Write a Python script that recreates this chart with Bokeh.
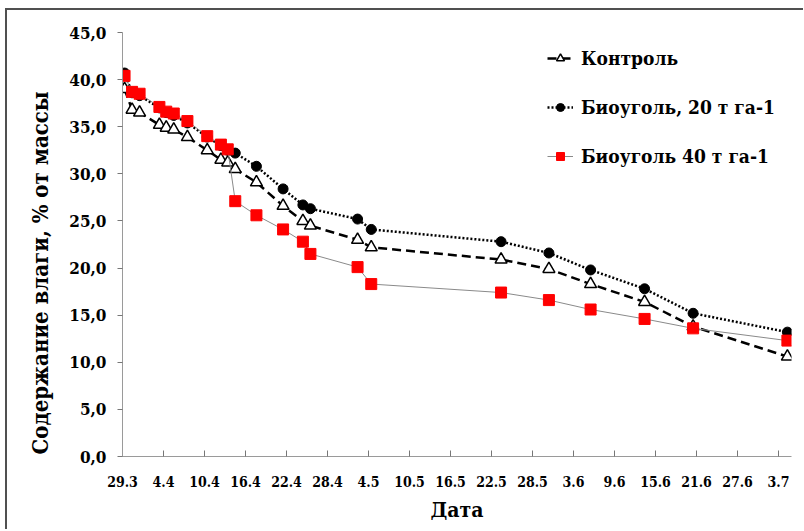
import numpy as np
from bokeh.plotting import figure
from bokeh.layouts import column
from bokeh.models import Range1d, FixedTicker, Legend, LegendItem, Title
from bokeh.embed import file_html
from bokeh.resources import INLINE

# ---- data ----
tick_days = [0, 6, 12, 18, 24, 30, 36, 42, 48, 54, 60, 66, 72, 78, 84, 90, 96]
tick_labels = ["29.3", "4.4", "10.4", "16.4", "22.4", "28.4", "4.5", "10.5", "16.5",
               "22.5", "28.5", "3.6", "9.6", "15.6", "21.6", "27.6", "3.7"]
y_ticks = [0, 5, 10, 15, 20, 25, 30, 35, 40, 45]
y_tick_labels = ["0,0", "5,0", "10,0", "15,0", "20,0", "25,0", "30,0", "35,0", "40,0", "45,0"]

# days after 29.3
days = [0.3, 1.4, 2.5, 5.4, 6.4, 7.5, 9.5, 12.4, 14.4, 15.4, 16.5, 19.6, 23.5, 26.4,
        27.5, 34.4, 36.4, 55.4, 62.4, 68.5, 76.4, 83.5, 97.3]
control = [39.0, 36.8, 36.5, 35.2, 34.9, 34.7, 33.9, 32.5, 31.5, 31.2, 30.5, 29.1, 26.6,
           25.0, 24.5, 23.0, 22.2, 20.9, 19.9, 18.3, 16.4, 13.8, 10.6]
bio20 = [40.7, 38.6, 38.3, 37.0, 36.5, 36.2, 35.4, 33.9, 33.0, 32.5, 32.2, 30.8, 28.4,
         26.7, 26.3, 25.2, 24.1, 22.8, 21.6, 19.8, 17.8, 15.2, 13.2]
bio40 = [40.4, 38.7, 38.5, 37.1, 36.6, 36.4, 35.6, 34.0, 33.1, 32.6, 27.1, 25.6, 24.1,
         22.8, 21.5, 20.1, 18.3, 17.4, 16.6, 15.6, 14.6, 13.6, 12.3]

series_names = ["Контроль", "Биоуголь, 20 т га-1", "Биоуголь 40 т га-1"]
y_title = "Содержание влаги, % от массы"
x_title = "Дата"

FONT = "DejaVu Serif Condensed"

p = figure(width=796, height=519, output_backend="svg", toolbar_location=None,
           x_range=Range1d(0, 97.9), y_range=Range1d(0, 45),
           min_border_left=115, min_border_right=12, min_border_top=22, min_border_bottom=73)
p.outline_line_color = None
p.xgrid.visible = False
p.ygrid.visible = False
p.background_fill_color = "white"
p.border_fill_color = "white"

# axes
p.xaxis.ticker = FixedTicker(ticks=tick_days)
p.xaxis.major_label_overrides = {d: l for d, l in zip(tick_days, tick_labels)}
p.xaxis.minor_tick_line_color = None
p.xaxis.major_tick_in = 6
p.xaxis.major_tick_out = 0
p.xaxis.axis_line_color = "#9a9a9a"
p.xaxis.major_tick_line_color = "#777777"
p.xaxis.major_label_text_font = FONT
p.xaxis.major_label_text_font_style = "bold"
p.xaxis.major_label_text_font_size = "14px"
p.xaxis.major_label_text_color = "black"
p.xaxis.major_label_standoff = 19

p.yaxis.ticker = FixedTicker(ticks=y_ticks)
p.yaxis.major_label_overrides = {t: l for t, l in zip(y_ticks, y_tick_labels)}
p.yaxis.minor_tick_line_color = None
p.yaxis.major_tick_in = 0
p.yaxis.major_tick_out = 5
p.yaxis.axis_line_color = "#9a9a9a"
p.yaxis.major_tick_line_color = "#777777"
p.yaxis.major_label_text_font = FONT
p.yaxis.major_label_text_font_style = "bold"
p.yaxis.major_label_text_font_size = "17px"
p.yaxis.major_label_text_color = "black"
p.yaxis.major_label_standoff = 11

# series
l1 = p.line(days, control, line_color="black", line_width=2.5, line_dash="9 5")
m1 = p.scatter(days, control, marker="triangle", size=12, fill_color="white",
               line_color="black", line_width=1.5)
l2 = p.line(days, bio20, line_color="black", line_width=2.5, line_dash="2 2")
m2 = p.scatter(days, bio20, marker="circle", size=10, fill_color="black", line_color="black")
l3 = p.line(days, bio40, line_color="#8a8a8a", line_width=1)
m3 = p.scatter(days, bio40, marker="square", size=11, fill_color="#ff0000", line_color="#ff0000")

legend = Legend(items=[LegendItem(label=series_names[0], renderers=[l1, m1]),
                       LegendItem(label=series_names[1], renderers=[l2, m2]),
                       LegendItem(label=series_names[2], renderers=[l3, m3])],
                location=(425, 287), orientation="vertical")
legend.border_line_alpha = 0
legend.background_fill_alpha = 0
legend.label_text_font = FONT
legend.label_text_font_style = "bold"
legend.label_text_font_size = "19px"
legend.label_text_color = "black"
legend.glyph_width = 26
legend.glyph_height = 20
legend.label_height = 27
legend.label_standoff = 8
legend.spacing = 22
legend.padding = 0
legend.margin = 0
p.add_layout(legend)

yt = Title(text=y_title, align="left", vertical_align="top", offset=2, standoff=24,
           text_font=FONT, text_font_style="bold", text_font_size="22px",
           text_color="black")
p.add_layout(yt, "left")

xt = Title(text=x_title, align="center", vertical_align="middle", standoff=12,
           text_font=FONT, text_font_style="bold", text_font_size="21px",
           text_color="black")
p.add_layout(xt, "below")

page = column(p)
page.styles = {"border-top": "2px solid #505050", "border-left": "2px solid #505050",
               "margin-left": "5px", "margin-top": "8px"}

open("out.html", "w").write(file_html(page, INLINE))
